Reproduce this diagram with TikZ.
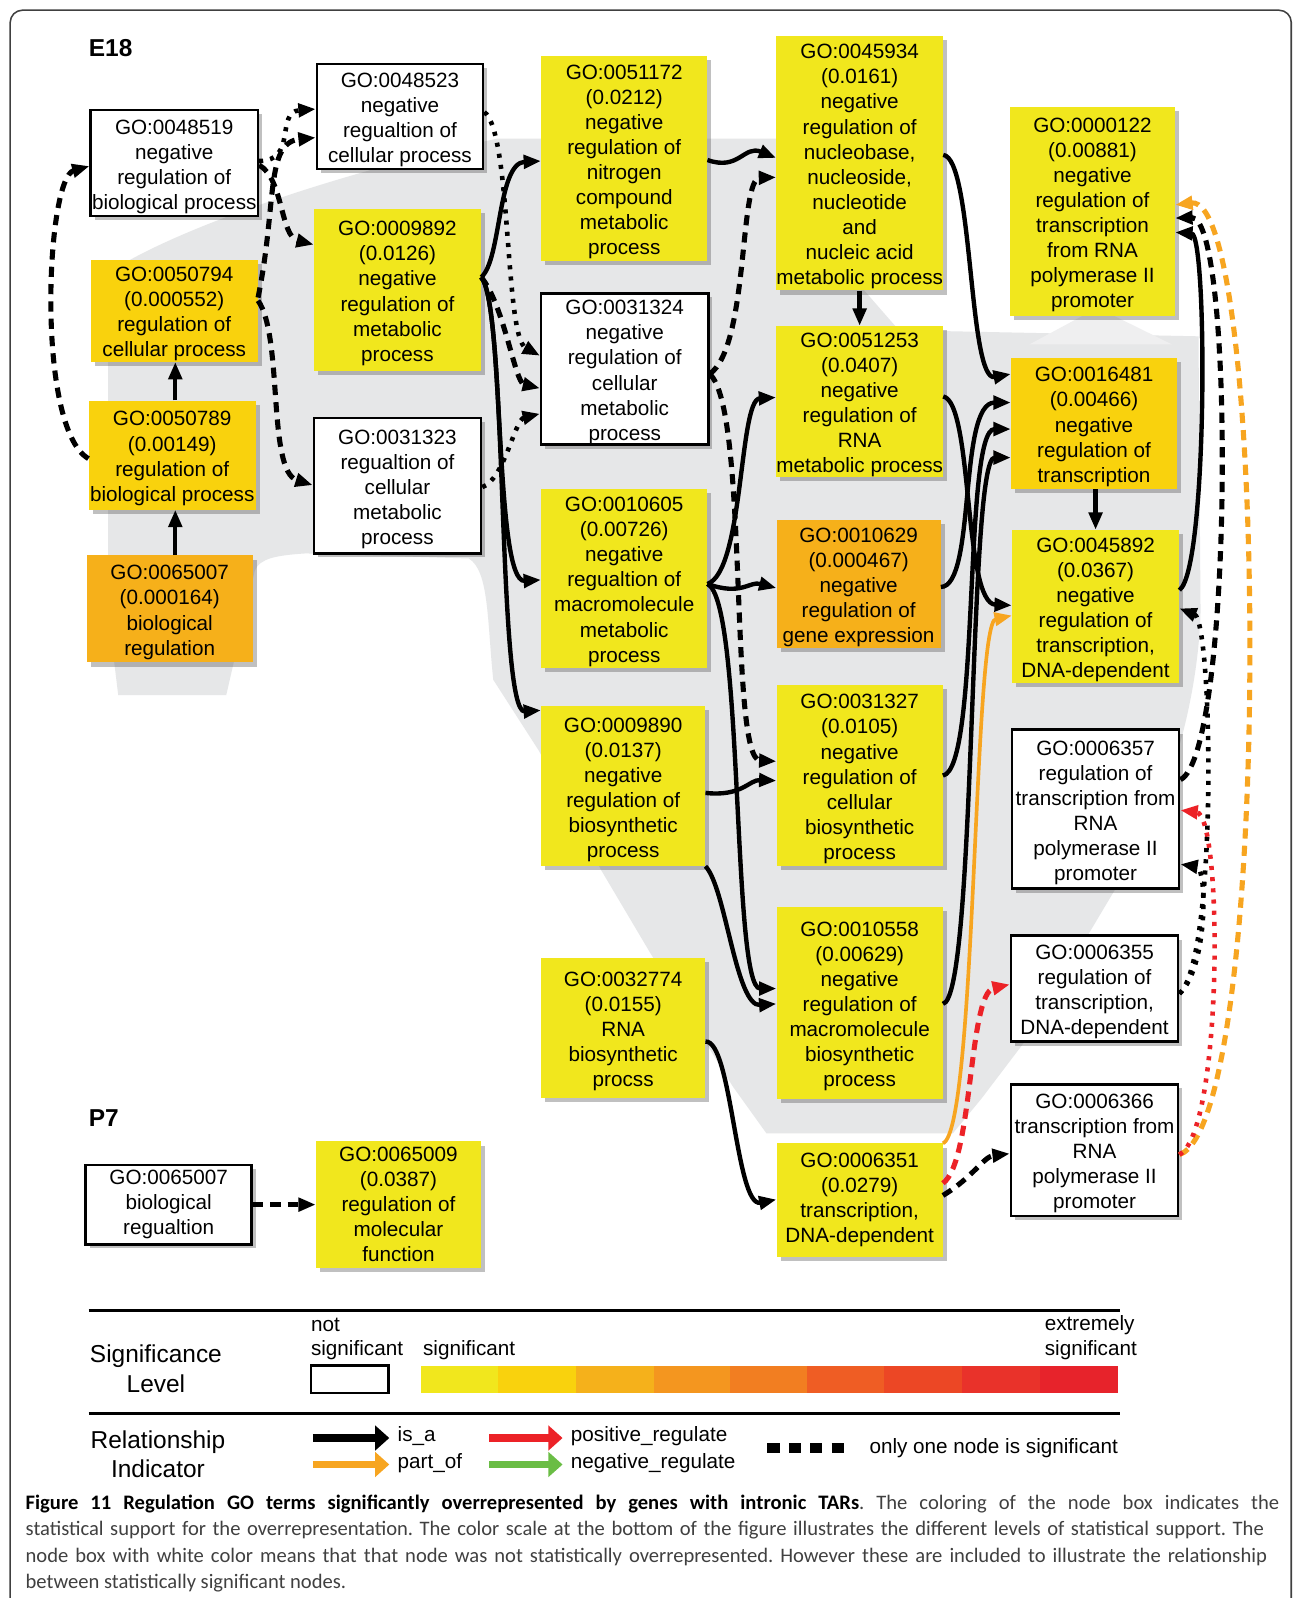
\documentclass[tikz,border=0pt]{standalone}
\usepackage{fontspec}
\setmainfont{Liberation Sans}
\newfontfamily\capfont{Carlito}
\usetikzlibrary{arrows.meta,shadows,calc}
\newcommand{\gostrut}{\rule{0pt}{21pt}}
\definecolor{cY}{HTML}{F1E71D}
\definecolor{cG}{HTML}{F9D20D}
\definecolor{cO}{HTML}{F6B01A}
\definecolor{cBG}{HTML}{E6E7E8}
\definecolor{cPale}{HTML}{EFEFF0}
\definecolor{cOr}{HTML}{F7A520}
\definecolor{cRed}{HTML}{EC2227}
\definecolor{cGreen}{HTML}{6ABD45}
\definecolor{s1}{HTML}{F1E71D}
\definecolor{s2}{HTML}{F9D20D}
\definecolor{s3}{HTML}{F5B11B}
\definecolor{s4}{HTML}{F4961F}
\definecolor{s5}{HTML}{F27E21}
\definecolor{s6}{HTML}{EF5D24}
\definecolor{s7}{HTML}{EC4725}
\definecolor{s8}{HTML}{E9322A}
\definecolor{s9}{HTML}{E7232B}
\tikzset{
  gobox/.style={rectangle, inner sep=0pt, align=center,
    font=\fontsize{20.3}{24.6}\selectfont,
    drop shadow={shadow xshift=4pt, shadow yshift=-4pt, fill=black!70, opacity=0.35}},
  wbox/.style={gobox, fill=white, draw=black, line width=2.5pt},
  ybox/.style={gobox, fill=cY},
  gbox/.style={gobox, fill=cG},
  obox/.style={gobox, fill=cO},
  tipstyle/.style={-{Triangle[length=17pt,width=13pt]}},
  isa/.style={draw=black, line width=4.3pt, tipstyle},
  onesig/.style={draw=black, line width=5pt, dash pattern=on 10pt off 7pt, tipstyle},
  nonsig/.style={draw=black, line width=4.5pt, dash pattern=on 4pt off 7pt, tipstyle},
  partof/.style={draw=cOr, line width=3.6pt, tipstyle},
  partofd/.style={draw=cOr, line width=5pt, dash pattern=on 10pt off 7pt, tipstyle},
  posreg/.style={draw=cRed, line width=5pt, dash pattern=on 10pt off 7pt, tipstyle},
  posregd/.style={draw=cRed, line width=4.5pt, dash pattern=on 4pt off 7pt, tipstyle},
  legarrow/.style={line width=7pt, -{Triangle[length=14pt,width=24pt]}},
  legtext/.style={font=\fontsize{20.3}{24}\selectfont, inner sep=0pt, anchor=west},
  legtitle/.style={font=\fontsize{24}{29}\selectfont, align=center, inner sep=0pt},
  captext/.style={font=\capfont\fontsize{20.2}{26}\selectfont\frenchspacing, inner sep=0pt, anchor=base west, text=black!75}
}
\begin{document}
\begin{tikzpicture}[x=1pt,y=-1pt]
\useasboundingbox (0,0) rectangle (1269,1568);
\fill[white] (0,0) rectangle (1269,1568);
% frame
\draw[line width=1.5pt, black!75, rounded corners=12pt] (10,1580) -- (10,10) -- (1267,10) -- (1267,1580);
% grey background swoosh
\fill[cBG] (116,682) -- (106,600) -- (106,268) .. controls (170,225) and (330,170) .. (488,136)
  -- (762,136) -- (762,200) -- (848,285) -- (882,324) -- (1176,330) -- (1178,600)
  .. controls (1176,680) and (1150,790) .. (1094,873) -- (1004,1024) -- (963,1078) -- (935,1112)
  -- (752,1112) -- (719,1066) -- (638,935) -- (590,854) -- (529,737) -- (484,667)
  .. controls (478,610) and (480,560) .. (460,548) -- (300,543) .. controls (270,545) and (255,548) .. (250,560)
  -- (222,682) -- cycle;
\fill[cPale] (1010,338) -- (1077,302) -- (1150,338) -- cycle;
% labels
\node[font=\bfseries\fontsize{24}{28}\selectfont, anchor=base west, inner sep=0pt] (lE18) at (87,55) {E18};
\node[font=\bfseries\fontsize{24}{28}\selectfont, anchor=base west, inner sep=0pt] (lP7) at (87,1105) {P7};
% nodes column 1
\node[wbox, minimum width=164pt, minimum height=104pt] (n48519) at (171,160) {\gostrut GO:0048519\\negative\\regulation of\\biological process};
\node[gbox, minimum width=164pt, minimum height=100pt] (n50794) at (171,305) {\gostrut GO:0050794\\(0.000552)\\regulation of\\cellular process};
\node[gbox, minimum width=164pt, minimum height=107pt] (n50789) at (169,446.5) {\gostrut GO:0050789\\(0.00149)\\regulation of\\biological process};
\node[obox, minimum width=163pt, minimum height=105pt] (n65007) at (166.5,597.5) {\gostrut GO:0065007\\(0.000164)\\biological\\regulation};
% column 2
\node[wbox, minimum width=163pt, minimum height=103pt] (n48523) at (392.5,114.5) {\gostrut GO:0048523\\negative\\regualtion of\\cellular process};
\node[ybox, minimum width=164pt, minimum height=159pt] (n9892) at (390,284.5) {\gostrut GO:0009892\\(0.0126)\\negative\\regulation of\\metabolic\\process};
\node[wbox, minimum width=164pt, minimum height=133pt] (n31323) at (390,476.5) {\gostrut GO:0031323\\regualtion of\\cellular\\metabolic\\process};
% column 3
\node[ybox, minimum width=163pt, minimum height=201pt] (n51172) at (612.5,155.5) {\gostrut GO:0051172\\(0.0212)\\negative\\regulation of\\nitrogen\\compound\\metabolic\\process};
\node[wbox, minimum width=164pt, minimum height=148pt] (n31324) at (613,362) {\gostrut GO:0031324\\negative\\regulation of\\cellular\\metabolic\\process};
\node[ybox, minimum width=163pt, minimum height=175pt] (n10605) at (612.5,567.5) {\gostrut GO:0010605\\(0.00726)\\negative\\regualtion of\\macromolecule\\metabolic\\process};
\node[ybox, minimum width=161pt, minimum height=157pt] (n9890) at (611.5,771.5) {\gostrut GO:0009890\\(0.0137)\\negative\\regulation of\\biosynthetic\\process};
\node[ybox, minimum width=161pt, minimum height=137pt] (n32774) at (611.5,1008.5) {\gostrut GO:0032774\\(0.0155)\\RNA\\biosynthetic\\procss};
% column 4
\node[ybox, minimum width=163pt, minimum height=250pt] (n45934) at (843.5,160) {\gostrut GO:0045934\\(0.0161)\\negative\\regulation of\\nucleobase,\\nucleoside,\\nucleotide\\and\\nucleic acid\\metabolic process};
\node[ybox, minimum width=163pt, minimum height=148pt] (n51253) at (843.5,394) {\gostrut GO:0051253\\(0.0407)\\negative\\regulation of\\RNA\\metabolic process};
\node[obox, minimum width=161pt, minimum height=126pt] (n10629) at (842.5,573) {\gostrut GO:0010629\\(0.000467)\\negative\\regulation of\\gene expression};
\node[ybox, minimum width=163pt, minimum height=178pt] (n31327) at (843.5,761) {\gostrut GO:0031327\\(0.0105)\\negative\\regulation of\\cellular\\biosynthetic\\process};
\node[ybox, minimum width=163pt, minimum height=188pt] (n10558) at (843.5,984) {\gostrut GO:0010558\\(0.00629)\\negative\\regulation of\\macromolecule\\biosynthetic\\process};
\node[ybox, minimum width=163pt, minimum height=111pt] (n6351) at (843.5,1177.5) {GO:0006351\\(0.0279)\\transcription,\\DNA-dependent};
% column 5
\node[ybox, minimum width=162pt, minimum height=205pt] (n122) at (1072,207.5) {\gostrut GO:0000122\\(0.00881)\\negative\\regulation of\\transcription\\from RNA\\polymerase II\\promoter};
\node[gbox, minimum width=163pt, minimum height=129pt] (n16481) at (1073.5,415.5) {\gostrut GO:0016481\\(0.00466)\\negative\\regulation of\\transcription};
\node[ybox, minimum width=164pt, minimum height=150pt] (n45892) at (1075,595) {\gostrut GO:0045892\\(0.0367)\\negative\\regulation of\\transcription,\\DNA-dependent};
\node[wbox, minimum width=164pt, minimum height=156pt] (n6357) at (1075,794) {\gostrut GO:0006357\\regulation of\\transcription from\\RNA\\polymerase II\\promoter};
\node[wbox, minimum width=164pt, minimum height=104pt] (n6355) at (1074,970) {\gostrut GO:0006355\\regulation of\\transcription,\\DNA-dependent};
\node[wbox, minimum width=164pt, minimum height=129pt] (n6366) at (1074,1128.5) {\gostrut GO:0006366\\transcription from\\RNA\\polymerase II\\promoter};
% P7
\node[wbox, minimum width=163pt, minimum height=78pt] (p65007) at (165.5,1182) {GO:0065007\\biological\\regualtion};
\node[ybox, minimum width=162pt, minimum height=124pt] (n65009) at (391,1182) {GO:0065009\\(0.0387)\\regulation of\\molecular\\function};
% edges left
\draw[isa] (n65007.north -| 172,0) -- (n50789.south -| 172,0);
\draw[isa] (n50789.north -| 172,0) -- (n50794.south -| 172,0);
\draw[onesig] (n50789.west |- 0,450) .. controls (35,420) and (45,175) .. (n48519.west |- 0,163);
\draw[onesig] (n48519.east |- 0,162) .. controls (278,175) and (275,232) .. (n9892.west |- 0,240);
\draw[nonsig] (n48519.east |- 0,158) .. controls (292,158) and (270,110) .. (n48523.west |- 0,107);
\draw[onesig] (n50794.east |- 0,292) .. controls (272,200) and (260,140) .. (n48523.west |- 0,135);
\draw[onesig] (n50794.east |- 0,295) .. controls (278,330) and (262,462) .. (n31323.west |- 0,476);
\draw[nonsig] (n48523.east |- 0,110) .. controls (502,130) and (495,330) .. (n31324.west |- 0,349);
\draw[onesig] (n9892.east |- 0,272) .. controls (495,300) and (505,375) .. (n31324.west |- 0,381);
\draw[nonsig] (n31323.east |- 0,478) .. controls (495,470) and (505,412) .. (n31324.west |- 0,406);
\draw[isa] (n9892.east |- 0,272) .. controls (492,255) and (488,160) .. (n51172.west |- 0,158);
\draw[isa] (n9892.east |- 0,272) .. controls (495,300) and (485,572) .. (n10605.west |- 0,569);
\draw[isa] (n9892.east |- 0,272) .. controls (498,300) and (488,700) .. (n9890.west |- 0,697);
% edges middle
\draw[isa] (n51172.east |- 0,157) .. controls (725,168) and (730,142) .. (n45934.west |- 0,155);
\draw[onesig] (n31324.east |- 0,367) .. controls (735,340) and (725,175) .. (n45934.west |- 0,174);
\draw[onesig] (n31324.east |- 0,367) .. controls (735,400) and (715,745) .. (n31327.west |- 0,747);
\draw[isa] (n10605.east |- 0,573) .. controls (730,560) and (725,392) .. (n51253.west |- 0,390);
\draw[isa] (n10605.east |- 0,573) .. controls (728,585) and (735,570) .. (n10629.west |- 0,577);
\draw[isa] (n10605.east |- 0,573) .. controls (730,590) and (718,970) .. (n10558.west |- 0,970);
\draw[isa] (n9890.east |- 0,778) .. controls (728,782) and (735,765) .. (n31327.west |- 0,766);
\draw[isa] (n9890.east |- 0,850) .. controls (712,870) and (722,988) .. (n10558.west |- 0,985);
\draw[isa] (n32774.east |- 0,1022) .. controls (718,1020) and (722,1185) .. (n6351.west |- 0,1177);
\draw[isa] (n45934.south) -- (n51253.north);
% edges right
\draw[isa] (n45934.east |- 0,152) .. controls (955,155) and (950,375) .. (n16481.west |- 0,367);
\draw[isa] (n51253.east |- 0,389) .. controls (955,395) and (945,592) .. (n45892.west |- 0,594);
\draw[isa] (n10629.east |- 0,576) .. controls (958,575) and (940,395) .. (n16481.west |- 0,395);
\draw[isa] (n31327.east |- 0,761) .. controls (962,755) and (945,421) .. (n16481.west |- 0,421);
\draw[isa] (n10558.east |- 0,985) .. controls (958,980) and (950,449) .. (n16481.west |- 0,449);
\draw[isa] (n16481.south -| 1075,0) -- (n45892.north -| 1075,0);
\draw[isa] (n45892.east |- 0,579) .. controls (1185,560) and (1185,230) .. (n122.east |- 0,228);
\draw[onesig] (n6357.east |- 0,765) .. controls (1210,740) and (1212,212) .. (n122.east |- 0,214);
\draw[partofd] (n6366.east |- 0,1133) .. controls (1250,1100) and (1245,190) .. (n122.east |- 0,201);
\draw[posregd] (n6366.east |- 0,1133) .. controls (1200,1110) and (1200,800) .. (n6357.east |- 0,795);
\draw[nonsig] (n6355.east |- 0,975) .. controls (1185,950) and (1185,852) .. (n6357.east |- 0,848);
\draw[nonsig] (n6355.east |- 0,975) .. controls (1195,940) and (1190,610) .. (n45892.east |- 0,597);
\draw[posreg] (n6351.east |- 0,1161) .. controls (955,1140) and (950,975) .. (n6355.west |- 0,966);
\draw[onesig] (n6351.east |- 0,1173) .. controls (955,1155) and (965,1135) .. (n6366.west |- 0,1132);
\draw[partof] (n6351.north east) .. controls (958,1110) and (955,612) .. (n45892.west |- 0,604);
\draw[onesig] (p65007) -- (n65009);
% legend
\draw[line width=2.5pt] (87,1286) coordinate (r1a) -- (1099,1286) coordinate (r1b);
\draw[line width=2.5pt] (87,1387) coordinate (r2a) -- (1099,1387) coordinate (r2b);
\node[legtitle] (sigl) at (153,1343) {Significance\\Level};
\node[legtitle] (reli) at (155,1427) {Relationship\\Indicator};
\node[legtext] (tnot) at (305,1300) {not};
\node[legtext] (tns) at (305,1325) {significant};
\node[legtext] (ts) at (415,1325) {significant};
\node[legtext] (tex) at (1025,1300) {extremely};
\node[legtext] (tes) at (1025,1325) {significant};
\draw[line width=2.5pt, fill=white] (305,1340) rectangle (381,1367);
\fill[s1] (413,1340) rectangle (489,1367);
\fill[s2] (489,1340) rectangle (565,1367);
\fill[s3] (565,1340) rectangle (642,1367);
\fill[s4] (642,1340) rectangle (716,1367);
\fill[s5] (716,1340) rectangle (792,1367);
\fill[s6] (792,1340) rectangle (867,1367);
\fill[s7] (867,1340) rectangle (944,1367);
\fill[s8] (944,1340) rectangle (1020,1367);
\fill[s9] (1020,1340) rectangle (1097,1367);
\coordinate (la1) at (307,1411); \coordinate (lb1) at (382,1411);
\coordinate (la2) at (307,1437); \coordinate (lb2) at (382,1437);
\coordinate (la3) at (480,1411); \coordinate (lb3) at (552,1411);
\coordinate (la4) at (480,1437); \coordinate (lb4) at (552,1437);
\coordinate (la5) at (753,1421); \coordinate (lb5) at (828,1421);
\draw[legarrow, black] (la1) -- (lb1);
\draw[legarrow, cOr] (la2) -- (lb2);
\draw[legarrow, cRed] (la3) -- (lb3);
\draw[legarrow, cGreen] (la4) -- (lb4);
\draw[line width=10pt, dash pattern=on 12pt off 9pt] (la5) -- (lb5);
\node[legtext] (tisa) at (390,1409) {is\_a};
\node[legtext] (tpo) at (390,1436) {part\_of};
\node[legtext] (tpr) at (560,1409) {positive\_regulate};
\node[legtext] (tnr) at (560,1436) {negative\_regulate};
\node[legtext] (tone) at (853,1421) {only one node is significant};
% caption
\node[captext] (cap1) at (25,1481) {\makebox[1230pt][s]{{\color{black}\bfseries Figure 11 Regulation GO terms significantly overrepresented by genes with intronic TARs}. The coloring of the node box indicates the}};
\node[captext] (cap2) at (25,1507) {\makebox[1215pt][s]{statistical support for the overrepresentation. The color scale at the bottom of the figure illustrates the different levels of statistical support. The}};
\node[captext] (cap3) at (25,1533) {\makebox[1218pt][s]{node box with white color means that that node was not statistically overrepresented. However these are included to illustrate the relationship}};
\node[captext] (cap4) at (25,1559) {between statistically significant nodes.};
\end{tikzpicture}
\end{document}
